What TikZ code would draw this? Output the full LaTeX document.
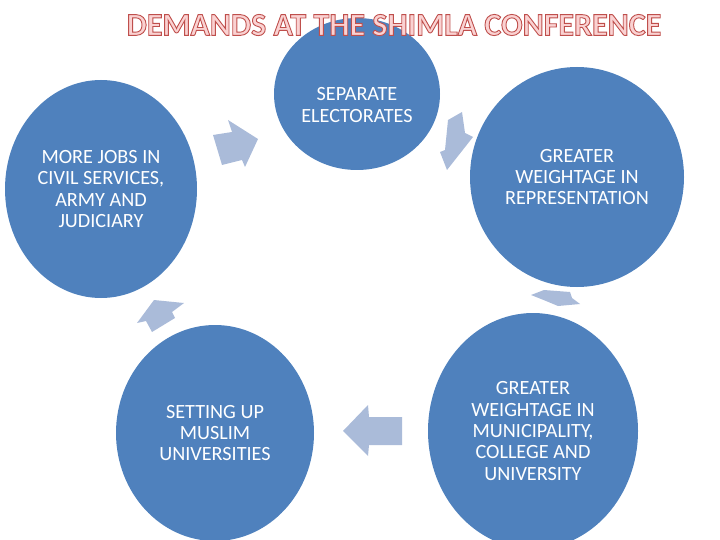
\documentclass[tikz,border=0pt]{standalone}
\usepackage{fontspec}
\setmainfont{Carlito}
\usetikzlibrary{shapes.geometric}
\definecolor{bub}{HTML}{4F81BD}
\definecolor{arr}{HTML}{AABBD9}
\definecolor{ttlfill}{HTML}{FAD2D2}
\tikzset{
  bubble/.style={ellipse, fill=bub, draw=none, inner sep=0pt, text=white, align=center,
    font=\fontsize{20.2}{21.3}\selectfont},
  btext/.style={text=white, align=center, inner sep=0pt, font=\fontsize{20.2}{21.3}\selectfont},
  arrowshape/.style={fill=arr, draw=none}
}
\newcommand{\outlinedtext}[1]{\special{pdf:literal direct 0.75 0.31 0.30 RG 0.9 w 2 Tr}#1\special{pdf:literal direct 0 Tr}}
\begin{document}
\begin{tikzpicture}[x=1pt,y=-1pt]
\useasboundingbox (0,0) rectangle (720,540);
\clip (0,0) rectangle (720,540);
% circles
\node[bubble, minimum width=166pt, minimum height=152pt] (sep) at (357,94) {};
\node[btext] (septxt) at (357,105) {SEPARATE\\ELECTORATES};
\node[bubble, minimum width=192pt, minimum height=218pt] (jobs) at (101,189) {MORE JOBS IN\\CIVIL SERVICES,\\ARMY AND\\JUDICIARY};
\node[bubble, minimum width=214pt, minimum height=220pt] (rep) at (577,177) {GREATER\\WEIGHTAGE IN\\REPRESENTATION};
\node[bubble, minimum width=198pt, minimum height=216pt] (univ) at (215,433) {SETTING UP\\MUSLIM\\UNIVERSITIES};
\node[bubble, minimum width=210pt, minimum height=236pt] (muni) at (533,431) {GREATER\\WEIGHTAGE IN\\MUNICIPALITY,\\COLLEGE AND\\UNIVERSITY};
% arrows
\fill[arrowshape] (213,135) -- (232,132) -- (228,120) -- (258,139) -- (245,167) -- (242,160) -- (222,165) -- cycle;
\fill[arrowshape] (448,120) -- (462,112) -- (465,133) -- (473,137) -- (447,170) -- (440,152) -- (445,150) -- cycle;
\fill[arrowshape] (531,295) -- (544,290) -- (570,292) -- (572,298) -- (580,304) -- (558,306) -- (546,301) -- cycle;
\fill[arrowshape] (343,431) -- (368,405) -- (369,417) -- (402,417) -- (402,445) -- (369,445) -- (368,456) -- cycle;
\fill[arrowshape] (137,323) -- (154,300) -- (184,303) -- (172,312) -- (175,318) -- (152,332) -- (146,321) -- cycle;
% title
\node[inner sep=0pt, text=ttlfill, font=\fontsize{32}{36}\selectfont\bfseries] (title) at (394,25)
  {\outlinedtext{DEMANDS AT THE SHIMLA CONFERENCE}};
\end{tikzpicture}
\end{document}
